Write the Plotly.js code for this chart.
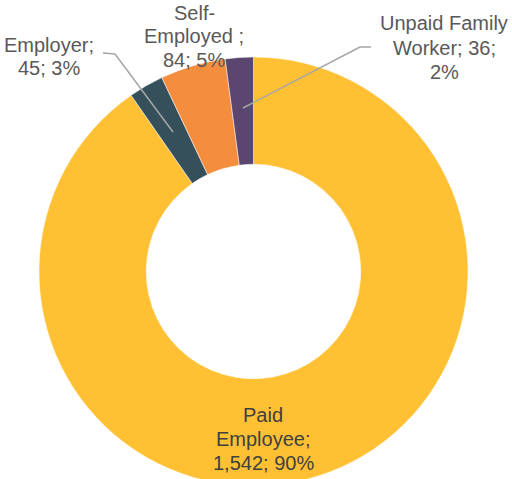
<!DOCTYPE html>
<html>
<head>
<meta charset="utf-8">
<script src="https://cdn.plot.ly/plotly-3.0.1.min.js"></script>
<style>
html,body{margin:0;padding:0;overflow:hidden;background:#fff;}
#chart{width:512px;height:486px;}
</style>
</head>
<body>
<div id="chart"></div>
<script>
// Data
const categories = ["Paid Employee", "Employer", "Self-Employed ", "Unpaid Family Worker"];
const values = [1542, 45, 84, 36];
const colors = ["#FFC033", "#354F5B", "#F58D3F", "#5B4670"];
// wrapped label lines (name part), value/percent appended from data
const nameLines = [["Paid", "Employee;"], ["Employer;"], ["Self-", "Employed ;"], ["Unpaid Family", "Worker; 36;"]];

const W = 512, H = 486;
const total = values.reduce((a, b) => a + b, 0);
const pct = values.map(v => Math.round(v / total * 100) + "%");
const fmt = v => v.toLocaleString("en-US");

function labelLines(i) {
  const n = nameLines[i];
  if (i === 3) return [n[0], "Worker; " + fmt(values[i]) + ";", pct[i]];
  return n.concat([fmt(values[i]) + "; " + pct[i]]);
}

// label layout (pixel positions)
const labelPos = [
  {x: 263, y: 415, step: 24, color: "#404040"},
  {x: 49, y: 45, step: 23, color: "#595959"},
  {x: 194, y: 13, step: 23.5, color: "#595959"},
  {x: 444, y: 23, step: 24.5, color: "#595959"}
];

const annotations = [];
labelPos.forEach((p, i) => {
  labelLines(i).forEach((t, k) => {
    annotations.push({
      text: t, xref: "paper", yref: "paper",
      x: p.x / W, y: 1 - (p.y + k * p.step) / H,
      xanchor: "center", yanchor: "middle", showarrow: false,
      font: {family: "Liberation Sans, Arial, sans-serif", size: 20, color: p.color}
    });
  });
});

const leaders = [
  [[103, 53], [115, 54], [173, 132]],
  [[371, 47], [360, 47], [243, 108]]
];
const shapes = [];
leaders.forEach(pts => {
  for (let k = 0; k < pts.length - 1; k++) {
    shapes.push({
      type: "line", xref: "paper", yref: "paper",
      x0: pts[k][0] / W, y0: 1 - pts[k][1] / H,
      x1: pts[k + 1][0] / W, y1: 1 - pts[k + 1][1] / H,
      line: {color: "#A6A6A6", width: 1.5}
    });
  }
});

const trace = {
  type: "pie",
  labels: categories,
  values: values,
  hole: 0.5,
  sort: false,
  direction: "clockwise",
  rotation: 0,
  textinfo: "none",
  hoverinfo: "label+value+percent",
  marker: {colors: colors, line: {color: "#ffffff", width: 0.5}},
  domain: {x: [39 / W, 468 / W], y: [0, 429 / H]},
  showlegend: false
};

Plotly.newPlot("chart", [trace], {
  width: W, height: H,
  margin: {l: 0, r: 0, t: 0, b: 0},
  paper_bgcolor: "#ffffff",
  plot_bgcolor: "#ffffff",
  showlegend: false,
  annotations: annotations,
  shapes: shapes
}, {displayModeBar: false, staticPlot: true});
</script>
</body>
</html>
